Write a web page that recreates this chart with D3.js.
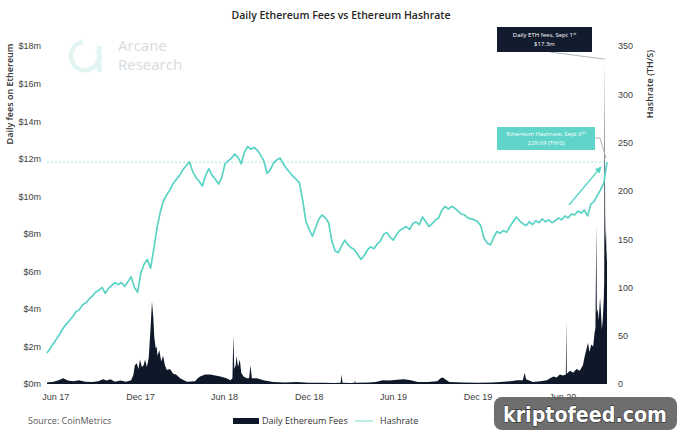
<!DOCTYPE html>
<html lang="en">
<head>
  <meta charset="UTF-8">
  <title>Daily Ethereum Fees vs Ethereum Hashrate</title>
  <style>
    body { margin: 0; background: #fff; }
    svg { display: block; font-family: "Open Sans", "Noto Sans", sans-serif; }
    .tick text { font-size: 9px; fill: #404040; }
    .domain { display: none; }
  </style>
</head>
<body>
  <script src="https://cdn.jsdelivr.net/npm/d3@7/dist/d3.min.js"></script>
  <script>
    // hashrate (TH/s), weekly readings starting 2017-05-14, last one Sept 6 2020
    const hashStart = "2017-05-14";
    const hashrate = [
      32, 37, 42, 47, 52, 58, 62, 66, 70, 75,
      77, 82, 84, 88, 91, 95, 97, 100, 94, 99,
      102, 105, 103, 105, 101, 106, 111, 100, 95, 115,
      124, 129, 120, 140, 162, 178, 190, 196, 201, 208,
      212, 216, 222, 226, 230, 220, 214, 210, 205, 216,
      223, 216, 212, 207, 214, 228, 231, 234, 238, 235,
      228, 240, 246, 243, 245, 242, 237, 231, 218, 222,
      229, 232, 234, 228, 223, 219, 215, 212, 208, 190,
      168, 160, 153, 162, 171, 175, 172, 167, 148, 138,
      136, 143, 149, 144, 141, 139, 134, 129, 133, 139,
      142, 140, 145, 148, 155, 157, 152, 149, 155, 159,
      161, 163, 160, 166, 168, 165, 173, 168, 163, 166,
      170, 172, 180, 184, 181, 184, 182, 179, 176, 175,
      172, 171, 170, 168, 164, 151, 146, 144, 152, 158,
      156, 159, 157, 163, 168, 173, 169, 166, 164, 168,
      165, 169, 167, 171, 168, 170, 167, 169, 172, 170,
      174, 172, 176, 175, 179, 177, 180, 174, 186, 189,
      195, 201, 208, 229.69
    ];

    // daily fees ($m), readings at irregular dates
    const fees = [
      ["2017-05-14",0.08],["2017-05-28",0.12],["2017-06-08",0.2],["2017-06-18",0.3],["2017-06-28",0.18],
      ["2017-07-10",0.15],["2017-07-22",0.2],["2017-08-05",0.12],["2017-08-20",0.1],["2017-09-02",0.15],
      ["2017-09-12",0.25],["2017-09-20",0.18],["2017-09-28",0.25],["2017-10-08",0.12],["2017-10-20",0.18],
      ["2017-11-01",0.12],["2017-11-12",0.2],["2017-11-17",0.5],["2017-11-20",1.0],["2017-11-24",1.1],
      ["2017-11-28",0.8],["2017-12-01",1.3],["2017-12-05",0.9],["2017-12-09",1.0],["2017-12-12",1.3],
      ["2017-12-16",0.9],["2017-12-20",1.4],["2017-12-24",3.0],["2017-12-27",4.4],["2017-12-30",3.5],
      ["2018-01-01",2.5],["2018-01-04",1.9],["2018-01-06",2.0],["2018-01-08",1.5],["2018-01-12",1.8],
      ["2018-01-16",1.2],["2018-01-20",1.5],["2018-01-24",1.0],["2018-01-28",0.75],["2018-02-04",0.8],
      ["2018-02-11",0.55],["2018-02-17",0.5],["2018-02-26",0.3],["2018-03-06",0.2],["2018-03-13",0.12],
      ["2018-03-30",0.15],["2018-04-05",0.3],["2018-04-10",0.4],["2018-04-21",0.5],["2018-05-02",0.5],
      ["2018-05-13",0.45],["2018-05-24",0.4],["2018-06-06",0.3],["2018-06-15",0.2],["2018-06-19",0.3],
      ["2018-06-21",2.6],["2018-06-23",0.8],["2018-06-26",1.0],["2018-06-28",1.5],["2018-07-01",0.9],
      ["2018-07-05",1.3],["2018-07-08",0.6],["2018-07-13",0.4],["2018-07-20",0.3],["2018-07-25",0.3],
      ["2018-07-28",1.0],["2018-07-31",0.3],["2018-08-11",0.3],["2018-08-25",0.2],["2018-09-15",0.1],
      ["2018-10-10",0.08],["2018-11-05",0.1],["2018-12-01",0.06],["2019-01-01",0.06],["2019-01-25",0.05],
      ["2019-02-08",0.06],["2019-02-10",0.5],["2019-02-12",0.06],["2019-03-01",0.05],["2019-03-10",0.06],
      ["2019-03-11",0.2],["2019-03-12",0.06],["2019-04-10",0.08],["2019-04-25",0.1],["2019-05-10",0.2],
      ["2019-05-25",0.18],["2019-06-10",0.22],["2019-06-25",0.25],["2019-07-10",0.2],["2019-07-25",0.1],
      ["2019-08-15",0.1],["2019-09-05",0.15],["2019-09-12",0.3],["2019-09-17",0.35],["2019-09-22",0.25],
      ["2019-10-01",0.1],["2019-11-01",0.08],["2019-12-01",0.07],["2020-01-01",0.08],["2020-01-20",0.1],
      ["2020-02-10",0.15],["2020-02-25",0.2],["2020-03-08",0.2],["2020-03-12",0.6],["2020-03-15",0.25],
      ["2020-03-30",0.1],["2020-04-15",0.15],["2020-04-29",0.2],["2020-05-06",0.3],["2020-05-13",0.4],
      ["2020-05-20",0.35],["2020-05-27",0.5],["2020-06-03",0.45],["2020-06-09",0.5],["2020-06-10",3.4],
      ["2020-06-11",0.55],["2020-06-18",0.7],["2020-06-25",0.6],["2020-07-02",0.8],["2020-07-09",0.7],
      ["2020-07-16",1.0],["2020-07-20",1.5],["2020-07-23",1.8],["2020-07-27",2.2],["2020-07-30",1.7],
      ["2020-08-03",2.1],["2020-08-07",2.0],["2020-08-10",2.7],["2020-08-12",3.0],["2020-08-14",8.5],
      ["2020-08-15",3.8],["2020-08-17",4.0],["2020-08-19",3.4],["2020-08-22",4.6],["2020-08-24",3.8],
      ["2020-08-26",2.9],["2020-08-28",3.5],["2020-08-30",4.5],["2020-08-31",5.5],["2020-09-01",17.3],
      ["2020-09-02",9.0],["2020-09-03",7.5],["2020-09-04",8.2],["2020-09-05",6.5],["2020-09-06",7.2]
    ];

    const xTicks = ["2017-06-01","2017-12-01","2018-06-01","2018-12-01","2019-06-01","2019-12-01","2020-06-01"];
    const feeTicks = [0, 2, 4, 6, 8, 10, 12, 14, 16, 18];
    const hashTicks = [0, 50, 100, 150, 200, 250, 300, 350];

    const feeNote = { date: "2020-09-01", value: 17.3 };
    const hashNote = { date: "2020-09-06", value: 229.69 };

    const parse = d3.timeParse("%Y-%m-%d");
    const W = 683, H = 435;
    const teal = "#5ad3c4", navy = "#0f1829";

    const x = d3.scaleTime().domain([parse(hashStart), parse("2020-09-06")]).range([47, 607]);
    const yFee = d3.scaleLinear().domain([0, 18]).range([384, 46]);
    const yHash = d3.scaleLinear().domain([0, 350]).range([384, 46]);

    const svg = d3.select("body").append("svg").attr("width", W).attr("height", H);

    svg.append("defs").append("marker")
      .attr("id", "arr").attr("viewBox", "0 -5 10 10")
      .attr("refX", 9).attr("refY", 0)
      .attr("markerWidth", 5).attr("markerHeight", 5)
      .attr("orient", "auto")
      .append("path").attr("d", "M0,-5L10,0L0,5Z").attr("fill", teal);

    // Arcane watermark
    const logo = svg.append("g").attr("opacity", 0.9);
    logo.append("path")
      .attr("d", d3.arc()({ innerRadius: 12, outerRadius: 16.5, startAngle: 0.35 * Math.PI, endAngle: 1.95 * Math.PI }))
      .attr("transform", "translate(85,56)").attr("fill", "#dff4f1");
    logo.append("rect").attr("x", 97).attr("y", 46).attr("width", 4.5).attr("height", 26).attr("fill", "#dff4f1");
    logo.append("text").attr("x", 118).attr("y", 51).attr("font-size", 15).attr("fill", "#d3d8da").text("Arcane");
    logo.append("text").attr("x", 118).attr("y", 70).attr("font-size", 15).attr("fill", "#d3d8da").text("Research");

    // title
    svg.append("text").attr("x", 341).attr("y", 19).attr("text-anchor", "middle")
      .attr("font-size", 10.5).attr("font-weight", 600).attr("fill", "#262626")
      .text("Daily Ethereum Fees vs Ethereum Hashrate");

    // axes
    svg.append("g").attr("transform", "translate(41,0)")
      .call(d3.axisLeft(yFee).tickValues(feeTicks).tickSize(0).tickPadding(0).tickFormat(d => "$" + d + "m"));
    svg.append("g").attr("transform", "translate(616,0)")
      .call(d3.axisRight(yHash).tickValues(hashTicks).tickSize(0).tickPadding(2));
    svg.append("g").attr("transform", "translate(0,390)")
      .call(d3.axisBottom(x).tickValues(xTicks.map(parse)).tickSize(0).tickPadding(4).tickFormat(d3.timeFormat("%b %y")));

    svg.append("text").attr("transform", "translate(13,94) rotate(-90)").attr("text-anchor", "middle")
      .attr("font-size", 9).attr("font-weight", 600).attr("fill", "#333").text("Daily fees on Ethereum");
    svg.append("text").attr("transform", "translate(653,84) rotate(-90)").attr("text-anchor", "middle")
      .attr("font-size", 9).attr("font-weight", 600).attr("fill", "#333").text("Hashrate (TH/S)");

    // reference level of latest hashrate
    svg.append("line")
      .attr("x1", 47).attr("x2", x(parse(hashNote.date)))
      .attr("y1", yHash(hashNote.value)).attr("y2", yHash(hashNote.value))
      .attr("stroke", "#a9e7df").attr("stroke-width", 1).attr("stroke-dasharray", "2,2");

    // fees area
    const feeData = fees.map(d => ({ date: parse(d[0]), v: d[1] }));
    svg.append("path").datum(feeData)
      .attr("fill", navy)
      .attr("d", d3.area().x(d => x(d.date)).y0(yFee(0)).y1(d => yFee(d.v)));

    // hashrate line
    const hashData = hashrate.map((v, i) => ({ date: d3.timeDay.offset(parse(hashStart), i * 7), v }));
    svg.append("path").datum(hashData)
      .attr("fill", "none").attr("stroke", teal).attr("stroke-width", 1.7).attr("stroke-linejoin", "round")
      .attr("d", d3.line().x(d => x(d.date)).y(d => yHash(d.v)));

    // arrow
    svg.append("line").attr("x1", 569).attr("y1", 205).attr("x2", 601).attr("y2", 167)
      .attr("stroke", teal).attr("stroke-width", 1.3).attr("marker-end", "url(#arr)");

    // fee annotation
    const fx = x(parse(feeNote.date)), fy = yFee(feeNote.value);
    svg.append("polyline").attr("points", `550,52 ${fx},${fy}`)
      .attr("fill", "none").attr("stroke", "#b0b4b8").attr("stroke-width", 1);
    svg.append("rect").attr("x", 497).attr("y", 27).attr("width", 95).attr("height", 25).attr("fill", "#131c2e");
    const t1 = svg.append("text").attr("x", 544.5).attr("y", 37).attr("text-anchor", "middle")
      .attr("font-size", 6).attr("fill", "#fff");
    t1.append("tspan").text("Daily ETH fees, Sept 1");
    t1.append("tspan").attr("font-size", 4).attr("dy", -2).text("st");
    svg.append("text").attr("x", 544.5).attr("y", 46).attr("text-anchor", "middle")
      .attr("font-size", 6).attr("fill", "#fff").text("$" + feeNote.value + "m");

    // hashrate annotation
    const hx = x(parse(hashNote.date)), hy = yHash(hashNote.value);
    svg.append("polyline").attr("points", `595,138 600,138 ${hx - 1},${hy - 4}`)
      .attr("fill", "none").attr("stroke", "#b0b4b8").attr("stroke-width", 1);
    svg.append("rect").attr("x", 497).attr("y", 127).attr("width", 98).attr("height", 23).attr("fill", "#5fd4c9");
    const t2 = svg.append("text").attr("x", 546).attr("y", 136).attr("text-anchor", "middle")
      .attr("font-size", 6).attr("fill", "#fff");
    t2.append("tspan").text("Ethereum Hashrate, Sept 6");
    t2.append("tspan").attr("font-size", 4).attr("dy", -2).text("th");
    svg.append("text").attr("x", 546).attr("y", 145).attr("text-anchor", "middle")
      .attr("font-size", 6).attr("fill", "#fff").text(hashNote.value + " (TH/S)");

    // legend and source
    svg.append("text").attr("x", 28).attr("y", 424).attr("font-size", 9).attr("fill", "#595959").text("Source: CoinMetrics");
    svg.append("rect").attr("x", 233).attr("y", 418).attr("width", 26).attr("height", 6).attr("fill", navy);
    svg.append("text").attr("x", 262).attr("y", 424).attr("font-size", 9).attr("fill", "#333").text("Daily Ethereum Fees");
    svg.append("line").attr("x1", 355).attr("x2", 373).attr("y1", 421).attr("y2", 421)
      .attr("stroke", "#a9e7df").attr("stroke-width", 1.5);
    svg.append("text").attr("x", 380).attr("y", 424).attr("font-size", 9).attr("fill", "#333").text("Hashrate");

    // site watermark
    svg.append("rect").attr("x", 494).attr("y", 397).attr("width", 183).attr("height", 33).attr("rx", 8)
      .attr("fill", "#5e5e5e").attr("opacity", 0.9);
    svg.append("text").attr("x", 503).attr("y", 422)
      .attr("font-family", "DejaVu Sans").attr("font-weight", "bold").attr("font-size", 22)
      .attr("textLength", 164).attr("lengthAdjust", "spacingAndGlyphs")
      .attr("fill", "#fff").attr("stroke", "#2a2a2a").attr("stroke-width", 1.2).attr("paint-order", "stroke")
      .text("kriptofeed.com");
  </script>
</body>
</html>
